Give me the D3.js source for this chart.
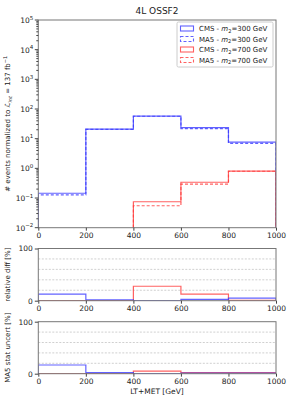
<!DOCTYPE html>
<html>
<head>
<meta charset="utf-8">
<script src="https://cdn.jsdelivr.net/npm/d3@7"></script>
<style>
  body { margin: 0; background: #fff; }
  svg text { font-family: "DejaVu Sans", sans-serif; fill: #222; }
</style>
</head>
<body>
<svg id="chart" width="289" height="417"></svg>
<script>
// bin edges for LT+MET [GeV]
var edges = [0, 200, 400, 600, 800, 1000];

// events per bin, main panel
var cms300 = [0.145, 21, 58, 23.5, 7.6];
var ma5300 = [0.128, 20.5, 57, 22, 7.0];
var cms700 = [0, 0, 0.075, 0.34, 0.81];
var ma5700 = [0, 0, 0.055, 0.295, 0.80];

// relative diff [%]
var diff300 = [12.6, 1.5, 0.4, 2.6, 5.0];
var diff700 = [0, 0, 27.7, 12.6, 0.6];

// MA5 stat uncert [%]
var stat300 = [16.7, 2.0, 0.3, 1.2, 1.2];
var stat700 = [0, 0, 5.0, 2.0, 2.0];

var logTicks = [-2, -1, 0, 1, 2, 3, 4, 5];
var xTicks = [0, 200, 400, 600, 800, 1000];
var pctTicks = [0, 100];
var pctGrid = [20, 40, 60, 80];

var legendItems = [
  {name: 'CMS', mass: 300, color: 'blue', dash: null},
  {name: 'MA5', mass: 300, color: 'blue', dash: '3,2'},
  {name: 'CMS', mass: 700, color: 'red', dash: null},
  {name: 'MA5', mass: 700, color: 'red', dash: '3,2'}
];

var colors = {blue: '#3b3bff', red: '#ff3b3b'};

var svg = d3.select('#chart');
var defs = svg.append('defs');

var x = d3.scaleLinear().domain([0, 1000]).range([38.3, 276]);
var y = d3.scaleLog().domain([1e-2, 1e5]).range([227.7, 20]);
var yDiff = d3.scaleLinear().domain([0, 100]).range([300.7, 248.5]);
var yStat = d3.scaleLinear().domain([0, 100]).range([373.7, 321.7]);

var clipN = 0;
function clipFor(ys) {
  var r = ys.range(), id = 'clip' + (clipN++);
  defs.append('clipPath').attr('id', id).append('rect')
    .attr('x', x.range()[0]).attr('y', r[1])
    .attr('width', x.range()[1] - x.range()[0]).attr('height', r[0] - r[1]);
  return 'url(#' + id + ')';
}

// step path, like histtype='step'
function stepPts(vals, floor) {
  var pts = [[edges[0], floor]];
  vals.forEach(function(v, i) {
    pts.push([edges[i], v]);
    pts.push([edges[i + 1], v]);
  });
  pts.push([edges[edges.length - 1], floor]);
  return pts;
}

function drawStep(g, vals, ys, floor, color, dash) {
  var line = d3.line()
    .x(function(d) { return x(d[0]); })
    .y(function(d) { return ys(ys === y && d[1] <= 0 ? 1e-3 : d[1]); });
  g.append('path')
    .attr('d', line(stepPts(vals, floor)))
    .attr('fill', 'none')
    .attr('stroke', colors[color])
    .attr('stroke-opacity', 0.8)
    .attr('stroke-width', 1.2)
    .attr('stroke-dasharray', dash);
}

function frame(ys) {
  var r = ys.range();
  svg.append('rect')
    .attr('x', x.range()[0]).attr('y', r[1])
    .attr('width', x.range()[1] - x.range()[0])
    .attr('height', r[0] - r[1])
    .attr('fill', 'none')
    .attr('stroke', '#777')
    .attr('stroke-width', 1);
}

function xAxis(ys) {
  var g = svg.append('g')
    .attr('transform', 'translate(0,' + ys.range()[0] + ')')
    .call(d3.axisBottom(x).tickValues(xTicks).tickSize(3).tickPadding(2).tickFormat(d3.format('d')));
  g.select('.domain').remove();
  g.selectAll('text').style('font-size', '7.5px').attr('fill', '#222');
  g.selectAll('line').attr('stroke', '#444');
}

// ---- main panel ----
var main = svg.append('g').attr('clip-path', clipFor(y));
drawStep(main, cms300, y, 1e-3, 'blue', null);
drawStep(main, ma5300, y, 1e-3, 'blue', '3,2');
drawStep(main, cms700, y, 1e-3, 'red', null);
drawStep(main, ma5700, y, 1e-3, 'red', '3,2');
frame(y);
xAxis(y);

// log y axis with minor ticks
var yAx = svg.append('g').attr('transform', 'translate(' + x.range()[0] + ',0)');
logTicks.forEach(function(p) {
  var yy = y(Math.pow(10, p));
  yAx.append('line').attr('x1', -3.5).attr('x2', 0).attr('y1', yy).attr('y2', yy).attr('stroke', '#444');
  var t = yAx.append('text').attr('x', -5).attr('y', yy + 3).attr('text-anchor', 'end').style('font-size', '7.5px');
  t.append('tspan').text('10');
  t.append('tspan').text(p < 0 ? '\u2212' + (-p) : p).style('font-size', '5.5px').attr('dy', -3.5);
  if (p < 5) {
    for (var m = 2; m < 10; m++) {
      var ym = y(m * Math.pow(10, p));
      yAx.append('line').attr('x1', -2).attr('x2', 0).attr('y1', ym).attr('y2', ym).attr('stroke', '#444');
    }
  }
});

// title
svg.append('text').attr('x', 157).attr('y', 14).attr('text-anchor', 'middle')
  .style('font-size', '9px').text('4L OSSF2');

// y label main
var yl = svg.append('text')
  .attr('transform', 'translate(10,' + ((y.range()[0] + y.range()[1]) / 2) + ') rotate(-90)')
  .attr('text-anchor', 'middle').style('font-size', '7px');
yl.append('tspan').text('# events normalized to ');
yl.append('tspan').text('\u2112').style('font-style', 'italic');
yl.append('tspan').text('int').style('font-size', '5px').style('font-style', 'italic').attr('dy', 1.5);
yl.append('tspan').text(' = 137 fb').attr('dy', -1.5);
yl.append('tspan').text('\u22121').style('font-size', '5px').attr('dy', -3);

// legend
var lg = svg.append('g');
lg.append('rect').attr('x', 177).attr('y', 22).attr('width', 96).attr('height', 45)
  .attr('fill', '#fff').attr('stroke', '#ccc').attr('rx', 1.5);
legendItems.forEach(function(d, i) {
  var yy = 28.5 + i * 10.5;
  lg.append('rect').attr('x', 180.5).attr('y', yy - 2.5).attr('width', 13).attr('height', 5)
    .attr('fill', 'none').attr('stroke', colors[d.color]).attr('stroke-opacity', 0.8)
    .attr('stroke-width', 1.1).attr('stroke-dasharray', d.dash);
  var t = lg.append('text').attr('x', 199).attr('y', yy + 2.5).style('font-size', '7px');
  t.append('tspan').text(d.name + ' - ');
  t.append('tspan').text('m').style('font-style', 'italic');
  t.append('tspan').text('2').style('font-size', '5px').attr('dy', 1.5);
  t.append('tspan').text('=' + d.mass + ' GeV').attr('dy', -1.5);
});

// ---- ratio panels ----
function pctPanel(ys, a, b, label) {
  var g = svg.append('g').attr('clip-path', clipFor(ys));
  pctGrid.forEach(function(v) {
    g.append('line').attr('x1', x(0)).attr('x2', x(1000)).attr('y1', ys(v)).attr('y2', ys(v))
      .attr('stroke', '#bbb').attr('stroke-width', 0.7).attr('stroke-dasharray', '2,1.5');
  });
  drawStep(g, b, ys, 0, 'red', null);
  drawStep(g, a, ys, 0, 'blue', null);
  frame(ys);
  xAxis(ys);
  var ax = svg.append('g').attr('transform', 'translate(' + x.range()[0] + ',0)')
    .call(d3.axisLeft(ys).tickValues(pctTicks).tickSize(3.5).tickPadding(2).tickFormat(d3.format('d')));
  ax.select('.domain').remove();
  ax.selectAll('text').style('font-size', '7.5px').attr('fill', '#222');
  ax.selectAll('line').attr('stroke', '#444');
  svg.append('text')
    .attr('transform', 'translate(10,' + ((ys.range()[0] + ys.range()[1]) / 2) + ') rotate(-90)')
    .attr('text-anchor', 'middle').style('font-size', '7px').text(label);
}

pctPanel(yDiff, diff300, diff700, 'relative diff [%]');
pctPanel(yStat, stat300, stat700, 'MA5 stat uncert [%]');

svg.append('text').attr('x', 157).attr('y', 394).attr('text-anchor', 'middle')
  .style('font-size', '7.5px').text('LT+MET [GeV]');
</script>
</body>
</html>
